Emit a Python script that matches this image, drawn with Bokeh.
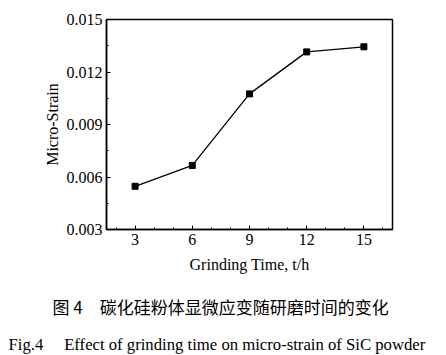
from bokeh.plotting import figure
from bokeh.models import (SingleIntervalTicker, NumeralTickFormatter, Range1d, Title)
from bokeh.embed import file_html
from bokeh.resources import INLINE

# data
grinding_time = [3, 6, 9, 12, 15]
micro_strain = [0.00547, 0.00666, 0.01075, 0.01315, 0.01344]
x_label = "Grinding Time, t/h"
y_label = "Micro-Strain"
caption_cn = "图 4\u3000碳化硅粉体显微应变随研磨时间的变化"
caption_en = "Fig.4\u2003 Effect of grinding time on micro-strain of SiC powder"

SERIF = "Liberation Serif"

p = figure(width=446, height=355, output_backend="svg", toolbar_location=None,
           x_range=Range1d(1.5, 16.5), y_range=Range1d(0.003, 0.015),
           min_border_left=106, min_border_right=54, min_border_top=19,
           min_border_bottom=126)
p.grid.visible = False
p.outline_line_color = "black"
p.outline_line_width = 1.5
p.background_fill_color = "white"
p.border_fill_color = "white"

p.line(grinding_time, micro_strain, line_color="black", line_width=1.3)
p.scatter(grinding_time, micro_strain, marker="square", size=6,
          fill_color="black", line_color="black")

p.xaxis.ticker = SingleIntervalTicker(interval=3, num_minor_ticks=3)
p.yaxis.ticker = SingleIntervalTicker(interval=0.003, num_minor_ticks=2)
p.yaxis.formatter = NumeralTickFormatter(format="0.000")

for ax in (p.xaxis[0], p.yaxis[0]):
    ax.axis_line_color = "black"
    ax.axis_line_width = 1.5
    ax.major_tick_in = 4
    ax.major_tick_out = 0
    ax.minor_tick_in = 2
    ax.minor_tick_out = 0
    ax.major_tick_line_color = "black"
    ax.minor_tick_line_color = "black"
    ax.major_label_text_font = SERIF
    ax.major_label_text_font_size = "16px"
    ax.major_label_text_color = "black"
    ax.axis_label_text_font = SERIF
    ax.axis_label_text_font_size = "16px"
    ax.axis_label_text_font_style = "normal"
    ax.axis_label_text_color = "black"
    ax.major_label_standoff = 4

p.xaxis.axis_label = x_label
p.yaxis.axis_label = y_label
p.xaxis.axis_label_standoff = 8
p.yaxis.axis_label_standoff = 3

cn = Title(text=caption_cn, align="left", offset=-54, standoff=33,
           text_font="Noto Sans CJK SC", text_font_size="17px",
           text_font_style="normal", text_color="black")
en = Title(text=caption_en, align="left", offset=-98, standoff=-6,
           text_font=SERIF, text_font_size="16.7px",
           text_font_style="normal", text_color="black")
p.add_layout(cn, "below")
p.add_layout(en, "below")

open("out.html", "w").write(file_html(p, INLINE))
